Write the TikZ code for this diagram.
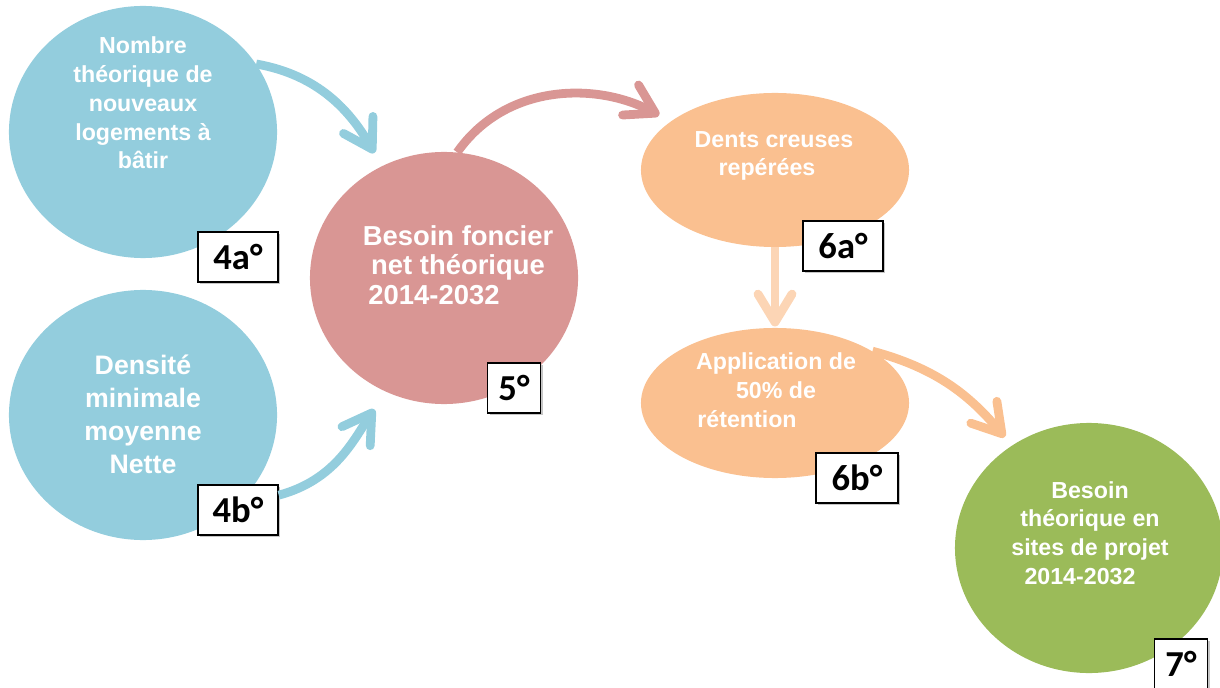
\documentclass[tikz,border=0pt]{standalone}
\usepackage{fontspec}
\setmainfont{Liberation Sans}
\newfontfamily\etiq{Carlito}
\usepackage{xcolor}
\usetikzlibrary{arrows.meta,shapes.geometric,shadows}
\definecolor{bleu}{HTML}{93CDDD}
\definecolor{rose}{HTML}{D99694}
\definecolor{peche}{HTML}{FAC090}
\definecolor{pechepale}{HTML}{FCD5B5}
\definecolor{vert}{HTML}{9BBB59}

\begin{document}
\begin{tikzpicture}[x=0.025cm,y=0.025cm,
    bulle/.style={ellipse,inner sep=0pt,minimum width=6.7cm,minimum height=6.3cm},
    texte/.style={text=white,font=\bfseries\fontsize{16.5}{20.5}\selectfont,align=center},
    etiquette/.style={draw=black,line width=1.1pt,fill=white,inner sep=0pt,
        minimum width=2cm,minimum height=1.25cm,font=\etiq\bfseries\fontsize{26}{28}\selectfont,
        drop shadow={shadow xshift=0.06cm,shadow yshift=-0.06cm,opacity=0.45}},
    fleche/.style={line width=0.22cm,-{Straight Barb[length=0.7cm,width=0.85cm,round]}}]
                        \useasboundingbox (0,0) rectangle (1220,-688);
                        % les bulles
                        \node[bulle,fill=bleu] (c4a) at (143,-132) {};
                        \node[bulle,fill=bleu,minimum height=6.25cm] (c4b) at (143,-415) {};
                        \node[bulle,fill=rose] (c5) at (444,-278) {};
                        \node[bulle,fill=peche,minimum height=3.85cm] (c6a) at (775,-170) {};
                        \node[bulle,fill=peche,minimum height=3.75cm] (c6b) at (775,-403) {};
                        \node[bulle,fill=vert,minimum height=6.25cm] (c7) at (1089,-548) {};
                        % les textes
                        \node[texte] (t4a) at (143,-103) {Nombre\\théorique de\\nouveaux\\logements à\\bâtir};
                        \node[texte,font=\bfseries\fontsize{19}{23.5}\selectfont] (t4b) at (143,-414) {Densité\\minimale\\moyenne\\Nette};
                        \node[texte,font=\bfseries\fontsize{19.5}{20.8}\selectfont] (t5) at (458,-265) {Besoin foncier\\net théorique\\2014-2032\hspace*{1.2cm}};
                        \node[texte] (t6a) at (774,-156) {Dents creuses\\repérées\hspace*{0.35cm}};
                        \node[texte] (t6b) at (776,-390) {Application de\\50\% de\\rétention\hspace*{1.45cm}};
                        \node[texte] (t7) at (1090,-533) {Besoin\\théorique en\\sites de projet\\2014-2032\hspace*{0.5cm}};
                        % les etiquettes
                        \node[etiquette] (l4a) at (238,-257) {4a°};
                        \node[etiquette] (l4b) at (238,-510) {4b°};
                        \node[etiquette,minimum width=1.33cm] (l5) at (514,-388) {5°};
                        \node[etiquette] (l6a) at (843,-246) {6a°};
                        \node[etiquette,minimum width=2.05cm] (l6b) at (857,-478) {6b°};
                        \node[etiquette,minimum width=1.33cm] (l7) at (1181,-664) {7°};
                        % les fleches
                        \draw[fleche,draw=bleu,shorten >=0.375cm] (c4a.31) to[out=-10,in=120] (c5.119);
                        \draw[fleche,draw=bleu,shorten >=0.525cm] (l4b.20) to[out=15,in=-124] (c5.243);
                        \draw[fleche,draw=rose,shorten >=0.325cm] (c5.84) to[out=55,in=152] (c6a.155.6);
                        \draw[fleche,draw=pechepale,shorten >=0.03cm] (c6a.south) -- (c6b.north);
                        \draw[fleche,draw=peche,shorten >=0.275cm] (c6b.28) to[out=-15,in=130] (c7.127);
                \end{tikzpicture}
\end{document}
